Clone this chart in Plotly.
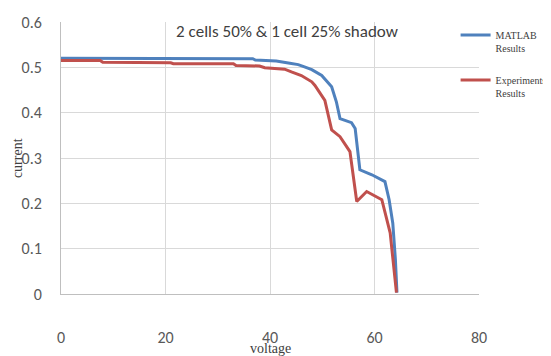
import plotly.graph_objects as go

# MATLAB results (blue)
matlab_voltage = [0, 36.7, 37.2, 41.2, 43.8, 45.4, 46.6, 48.0, 49.9, 51.8, 52.7, 53.4,
                  55.6, 56.3, 57.2, 59.5, 62.0, 62.8, 63.5, 64.0, 64.3]
matlab_current = [0.520, 0.519, 0.516, 0.514, 0.509, 0.506, 0.501, 0.495, 0.482, 0.457, 0.424, 0.387,
                  0.378, 0.365, 0.274, 0.263, 0.248, 0.208, 0.156, 0.076, 0.003]

# Experimental results (red)
exp_voltage = [0, 7.5, 8.0, 21.0, 21.5, 33.0, 33.5, 38.0, 39.0, 42.8, 44.1, 46.0, 48.0,
               48.6, 50.5, 51.8, 53.4, 55.3, 56.6, 58.5, 61.4, 63.0, 64.2]
exp_current = [0.515, 0.515, 0.511, 0.510, 0.508, 0.508, 0.504, 0.503, 0.499, 0.496, 0.490, 0.482, 0.468,
               0.460, 0.427, 0.362, 0.347, 0.314, 0.204, 0.226, 0.208, 0.135, 0.003]

x_ticks = [0, 20, 40, 60, 80]
y_ticks = [0, 0.1, 0.2, 0.3, 0.4, 0.5, 0.6]
y_tick_labels = ["0", "0.1", "0.2", "0.3", "0.4", "0.5", "0.6"]

title_text = "2 cells 50% & 1 cell 25% shadow"
x_title = "voltage"
y_title = "current"

fig = go.Figure()
fig.add_trace(go.Scatter(x=matlab_voltage, y=matlab_current, mode="lines",
                         name="MATLAB<br>Results", legendgroup="a",
                         line=dict(color="#4f81bd", width=3)))
fig.add_trace(go.Scatter(x=exp_voltage, y=exp_current, mode="lines",
                         name="Experiments<br>Results", legendgroup="b",
                         line=dict(color="#c0504d", width=3)))

tick_font = dict(family="Carlito, Liberation Sans Narrow, Liberation Sans, sans-serif",
                 size=16, color="#595959")
serif = "Liberation Serif, Times New Roman, serif"

W, H = 543, 348  # page body adds an 8px offset

fig.update_layout(
    width=W, height=H,
    margin=dict(l=53, r=72, t=14, b=61.5, autoexpand=False),
    paper_bgcolor="white", plot_bgcolor="white",
    showlegend=True,
    legend=dict(x=0.944, y=1.0, xanchor="left", yanchor="top",
                font=dict(family=serif, size=10, color="#404040"),
                valign="top", tracegroupgap=16, bgcolor="rgba(0,0,0,0)",
                itemwidth=30),
    title=dict(text=title_text, x=279 / W, xref="container", xanchor="center",
               y=1 - 23 / H, yref="container", yanchor="middle",
               font=dict(family="Carlito, Liberation Sans Narrow, Liberation Sans, sans-serif",
                         size=17, color="#404040")),
    annotations=[
        dict(text=x_title, xref="paper", yref="paper", x=0.5, y=-0.2, yanchor="middle",
             xanchor="center", showarrow=False,
             font=dict(family=serif, size=14, color="#404040")),
        dict(text=y_title, xref="paper", yref="paper", x=-0.105, y=0.5, textangle=-90,
             xanchor="center", yanchor="middle", showarrow=False,
             font=dict(family=serif, size=14, color="#404040")),
    ],
)

fig.update_xaxes(range=[0, 80], tickvals=x_ticks, showgrid=True, gridcolor="#d9d9d9", gridwidth=1,
                 showline=True, linecolor="#bfbfbf", linewidth=1, zeroline=False,
                 ticks="outside", ticklen=29, tickcolor="rgba(0,0,0,0)",
                 tickfont=tick_font, automargin=False)
fig.update_yaxes(range=[0, 0.6], tickvals=y_ticks, ticktext=y_tick_labels,
                 showgrid=True, gridcolor="#d9d9d9", gridwidth=1,
                 showline=True, linecolor="#bfbfbf", linewidth=1, zeroline=False,
                 ticks="outside", ticklen=15, tickcolor="rgba(0,0,0,0)",
                 tickfont=tick_font, automargin=False)

fig.write_html("out.html")
